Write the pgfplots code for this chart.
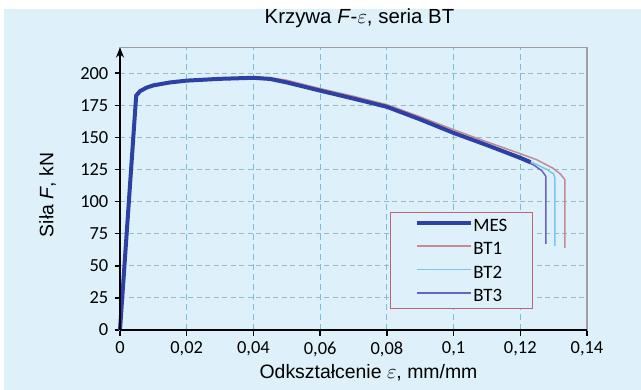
\documentclass[border=0pt]{standalone}
\usepackage{pgfplots}
\pgfplotsset{compat=1.18}
\usepackage{pgfplotstable}
\usepackage{fontspec}
\setmainfont{Liberation Sans}
\newfontfamily\carlito{Carlito}
\usetikzlibrary{arrows.meta}
\definecolor{bg}{RGB}{222,240,249}
\definecolor{mes}{RGB}{45,65,165}
\definecolor{btone}{RGB}{196,140,146}
\definecolor{bttwo}{RGB}{120,200,235}
\definecolor{btthree}{RGB}{105,100,190}
\definecolor{gridh}{RGB}{150,185,195}
\definecolor{gridv}{RGB}{120,190,215}
\definecolor{legframe}{RGB}{190,100,120}

\pgfplotstableread{
x y
0 0
0.00485 182.5
0.006 186
0.008 188.8
0.01 190.5
0.015 192.8
0.02 194.2
0.03 195.6
0.04 196.4
0.045 195.5
0.05 192.8
0.06 186.4
0.07 180.2
0.08 173.8
0.09 164
0.1 153.5
0.11 144
0.12 134.1
0.1231 130.7
}\mes

\pgfplotstableread{
x y
0 0
0.0048 182
0.006 185.8
0.008 188.8
0.01 190.5
0.015 192.8
0.02 194.3
0.03 195.8
0.04 196.8
0.045 196.5
0.05 194.5
0.06 188
0.07 182
0.08 175.5
0.09 166
0.1 156
0.11 146.5
0.12 137.3
0.125 132.5
0.1298 126
0.132 121.5
0.1334 117
0.1334 64
}\btone

\pgfplotstableread{
x y
0 0
0.0049 182.5
0.006 186
0.008 188.8
0.01 190.5
0.015 192.8
0.02 194.2
0.03 195.6
0.04 196.4
0.045 195.5
0.05 192.8
0.06 186.4
0.07 180.2
0.08 173.8
0.09 164
0.1 153.5
0.11 144
0.12 133.5
0.124 130
0.128 125
0.13 121.5
0.1304 118
0.1304 65.5
}\bttwo

\pgfplotstableread{
x y
0 0
0.0049 182.5
0.006 186
0.008 188.8
0.01 190.5
0.015 192.8
0.02 194.2
0.03 195.6
0.04 196.4
0.045 195.5
0.05 192.8
0.06 186.4
0.07 180.2
0.08 173.8
0.09 164
0.1 153.5
0.11 143.5
0.12 133
0.124 128.5
0.1265 124
0.1277 119.5
0.1277 67
}\btthree

\begin{document}
\begin{tikzpicture}
\useasboundingbox (0bp,0bp) rectangle (641bp,390bp);
\fill[white] (0bp,0bp) rectangle (641bp,390bp);
\fill[bg] (4bp,0bp) rectangle (641bp,380.5bp);
\begin{axis}[
  at={(120bp,60bp)}, anchor=south west,
  scale only axis, width=467bp, height=282.5bp,
  clip=false,
  xmin=0, xmax=0.14, ymin=0, ymax=220,
  xtick={0,0.02,0.04,0.06,0.08,0.1,0.12,0.14},
  xticklabels={0,{0,02},{0,04},{0,06},{0,08},{0,1},{0,12},{0,14}},
  ytick={0,25,50,75,100,125,150,175,200},
  yticklabels={0,25,50,75,100,125,150,175,200},
  tick align=outside, xtick pos=bottom, ytick pos=left,
  major tick length=5.5bp,
  tick style={black, line width=1.5bp},
  xticklabel style={font=\carlito\fontsize{18.5}{20}\selectfont, inner sep=0pt, anchor=north, yshift=-6bp},
  yticklabel style={font=\carlito\fontsize{18.5}{20}\selectfont, inner sep=0pt, anchor=east, xshift=-6bp},
  axis line style={draw=gray!75, line width=1.3bp},
  grid=major,
  x grid style={gridv, dash pattern=on 6bp off 4bp, line width=0.8bp},
  y grid style={gridh, dash pattern=on 5bp off 3.5bp, line width=0.9bp},
  title={Krzywa \textit{F}-$\varepsilon$, seria BT},
  title style={font=\fontsize{20.5}{24}\selectfont, anchor=base, at={(0.5,1)}, yshift=18bp, xshift=6bp, inner sep=0pt},
  xlabel={Odkształcenie $\varepsilon$, mm/mm},
  xlabel style={font=\fontsize{19.5}{23}\selectfont, anchor=base, at={(0.5,0)}, yshift=-48.5bp, xshift=15bp, inner sep=0pt},
  ylabel={Siła \textit{F}, kN},
  ylabel style={font=\fontsize{19.5}{23}\selectfont, anchor=base, at={(-0.1428,0.478)}, inner sep=0pt},
  legend style={at={(0.578,0.418)}, anchor=north west, draw=legframe, line width=1bp, fill=bg,
    font=\carlito\fontsize{19}{20}\selectfont, inner xsep=25bp, inner ysep=7bp, row sep=11.3bp,
    nodes={inner sep=0pt, text height=12bp, text depth=0bp}},
  legend cell align=left,
  legend image code/.code={\draw[#1] (0bp,2.5bp) -- (54bp,2.5bp);},
]
\addlegendimage{mes, line width=4bp}
\addlegendentry{MES}
\addplot[btone, line width=1.5bp] table {\btone};
\addlegendentry{BT1}
\addplot[bttwo, line width=1.5bp] table {\bttwo};
\addlegendentry{BT2}
\addplot[btthree, line width=1.5bp] table {\btthree};
\addlegendentry{BT3}
\addplot[mes, line width=4bp, line join=round, forget plot] table {\mes};
\draw[black, line width=1.8bp] (axis cs:0,0) -- (axis cs:0.14,0);
\draw[black, line width=1.8bp, -{Stealth[length=10bp,width=8bp]}] (axis cs:0,0) -- (axis cs:0,220);
\end{axis}
\end{tikzpicture}
\end{document}
